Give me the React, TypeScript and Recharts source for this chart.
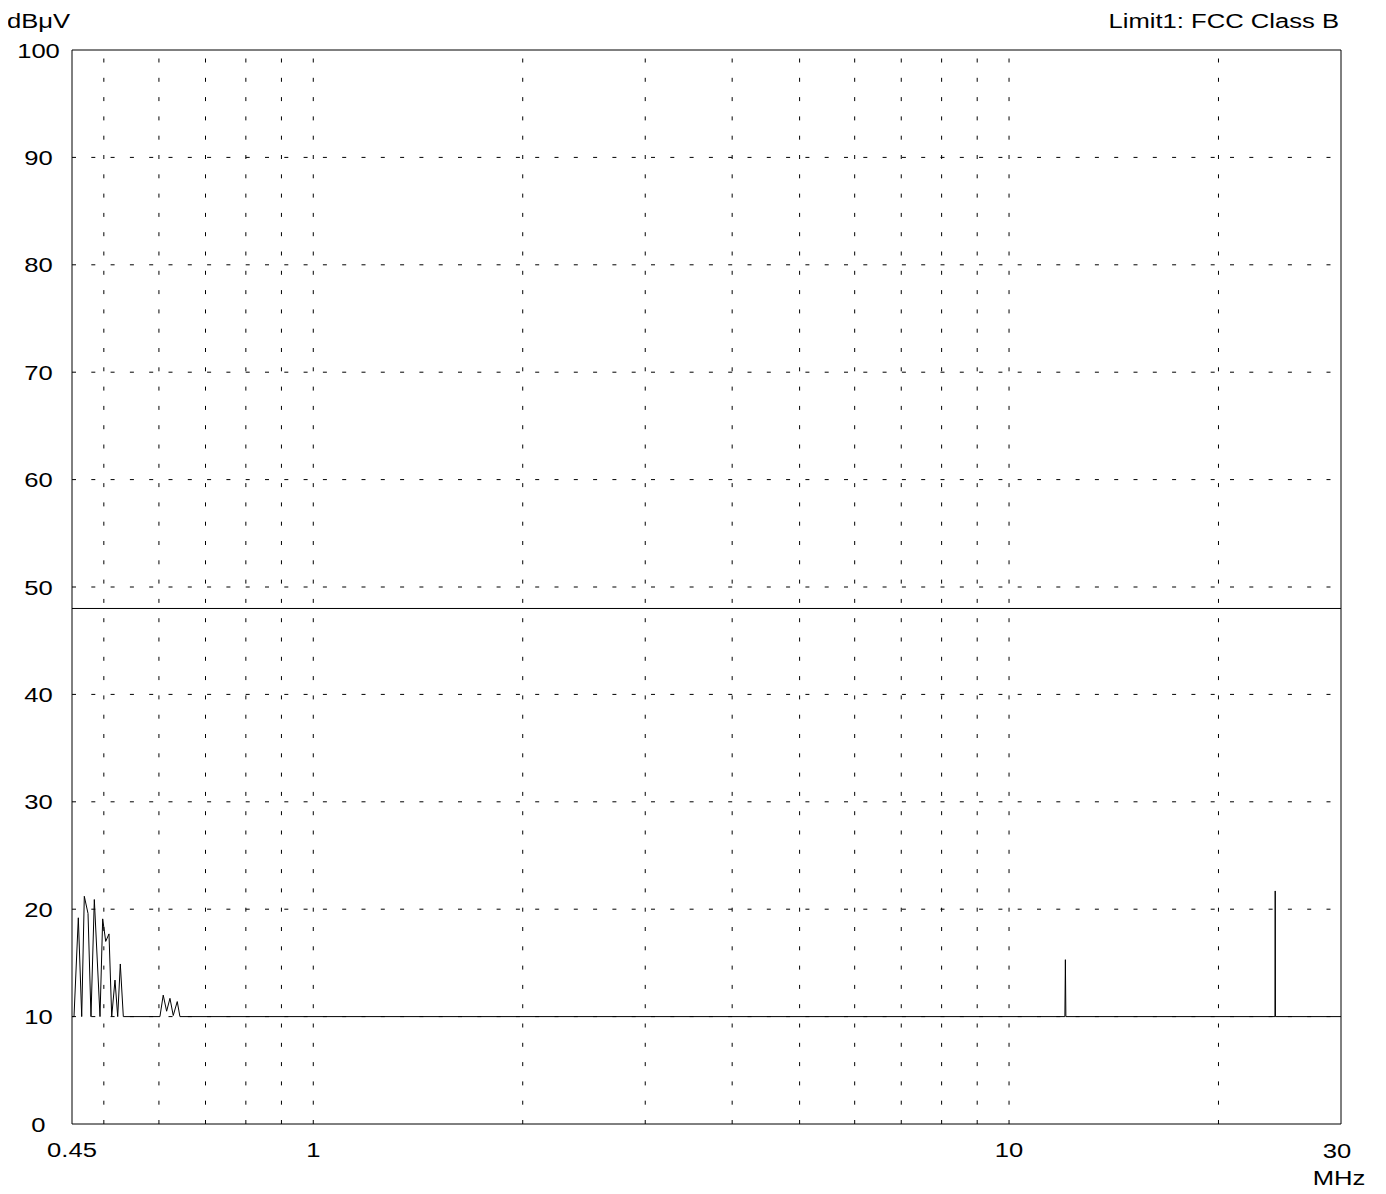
import { LineChart, Line, XAxis, YAxis, ReferenceLine, ReferenceArea } from "recharts"

// spectrum trace (MHz / dBµV)
const freqs = [
  0.45, 0.453, 0.4595, 0.4647, 0.4687, 0.4745, 0.4792, 0.4845, 0.4937, 0.4981, 0.5031, 0.5086, 0.5132, 0.5188,
  0.5235, 0.528, 0.5333, 0.602, 0.6086, 0.6155, 0.6223, 0.6291, 0.6375, 0.6432, 12.03, 12.05, 12.07, 24.11, 24.13,
  24.15, 30,
]
const levels = [
  10, 10, 19.2, 10, 21.2, 19.6, 10, 20.9, 10, 19.1, 17.0, 17.7, 10, 13.4, 10, 14.9, 10, 10, 12.0, 10.5, 11.7, 10.1,
  11.4, 10, 10, 15.3, 10, 10, 21.7, 10, 10,
]

const limitLevel = 48
const xTicks = [0.45, 1, 10, 30]
const yTicks = [0, 10, 20, 30, 40, 50, 60, 70, 80, 90, 100]
const xGrid = [0.5, 0.6, 0.7, 0.8, 0.9, 1, 2, 3, 4, 5, 6, 7, 8, 9, 10, 20]
const yGrid = [10, 20, 30, 40, 50, 60, 70, 80, 90]

const data = freqs.map((f, i) => ({ f, v: levels[i] }))

const FONT = "'Liberation Sans', Arial, sans-serif"
const DASH = "4 15.3"

function WideText({ x, y, anchor = "middle", children }: any) {
  return (
    <text
      transform={`translate(${x},${y}) scale(1.22,1)`}
      textAnchor={anchor}
      fontFamily={FONT}
      fontSize={21}
      fill="#000"
    >
      {children}
    </text>
  )
}

function YTick({ y, payload }: any) {
  return (
    <WideText x={38.5} y={y + 7.5}>
      {payload.value}
    </WideText>
  )
}

function XTick({ x, payload }: any) {
  const last = payload.value === 30
  return (
    <g>
      <WideText x={last ? x - 4 : x} y={last ? 1158 : 1157}>
        {payload.value}
      </WideText>
      {last && (
        <WideText x={x - 2} y={1185}>
          MHz
        </WideText>
      )}
    </g>
  )
}

export default function App() {
  return (
    <div style={{ margin: "-8px 0 0 -8px", width: 1386, height: 1194 }}>
      <LineChart width={1386} height={1194} data={data} margin={{ top: 50, right: 45, left: 0, bottom: 0 }}>
        <XAxis
          dataKey="f"
          type="number"
          scale="log"
          domain={[0.45, 30]}
          ticks={xTicks}
          allowDataOverflow
          height={70}
          axisLine={false}
          tickLine={false}
          tick={(p: any) => <XTick {...p} />}
        />
        <YAxis
          type="number"
          domain={[0, 100]}
          ticks={yTicks}
          width={72}
          axisLine={false}
          tickLine={false}
          tick={(p: any) => <YTick {...p} />}
        />
        {xGrid.map((f) => (
          <ReferenceLine key={`vx-${f}`} x={f} stroke="#000" strokeWidth={1} strokeDasharray={DASH} />
        ))}
        {yGrid.map((v) => (
          <ReferenceLine key={`hy-${v}`} y={v} stroke="#000" strokeWidth={1} strokeDasharray={DASH} />
        ))}
        <ReferenceLine y={limitLevel} stroke="#000" strokeWidth={1} />
        <ReferenceArea x1={0.45} x2={30} y1={0} y2={100} fill="none" stroke="#000" strokeWidth={1} />
        <Line
          type="linear"
          dataKey="v"
          stroke="#000"
          strokeWidth={1}
          dot={false}
          activeDot={false}
          isAnimationActive={false}
        />
        <WideText x={7} y={28} anchor="start">
          dBμV
        </WideText>
        <WideText x={1339} y={28} anchor="end">
          Limit1: FCC Class B
        </WideText>
      </LineChart>
    </div>
  )
}
